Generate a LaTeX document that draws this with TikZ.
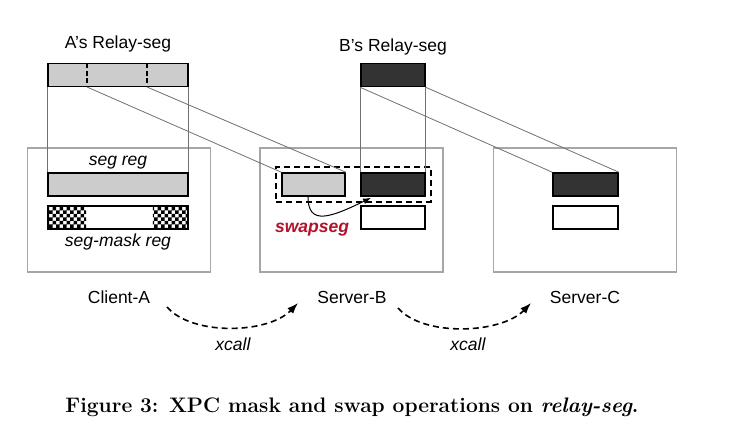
\documentclass[tikz,border=0pt]{standalone}
\usepackage{fontspec}
\setsansfont{Liberation Sans}
\usetikzlibrary{fit,patterns,arrows.meta,backgrounds}
\definecolor{seggray}{HTML}{CCCCCC}
\definecolor{segdark}{HTML}{333333}
\definecolor{framegray}{HTML}{A6A6A6}
\definecolor{linkgray}{HTML}{707070}
\definecolor{swapred}{RGB}{178,18,42}
\pgfdeclarepatternformonly{segchecker}{\pgfqpoint{-.1pt}{-.1pt}}{\pgfqpoint{7.1pt}{7.1pt}}{\pgfqpoint{7pt}{7pt}}{%
  \pgfpathrectangle{\pgfqpoint{0pt}{0pt}}{\pgfqpoint{3.6pt}{3.6pt}}%
  \pgfpathrectangle{\pgfqpoint{3.5pt}{3.5pt}}{\pgfqpoint{3.6pt}{3.6pt}}%
  \pgfusepath{fill}}
\tikzset{
  host/.style={draw=framegray,line width=1.6pt,minimum width=183pt,minimum height=124pt,inner sep=0pt},
  reg/.style={draw,line width=1.6pt,minimum height=23pt,inner sep=0pt},
  lbl/.style={font=\sffamily\fontsize{17.5}{21}\selectfont,inner sep=0pt,anchor=base},
  link/.style={draw=linkgray,line width=0.8pt},
  xcallarrow/.style={->,dash pattern=on 6pt off 4pt,line width=1.6pt}
}
\begin{document}
\begin{tikzpicture}[x=1pt,y=-1pt,>={Latex[length=11pt,width=8pt]}]
\useasboundingbox (0,0) rectangle (732,431);
% hosts
\node[host] (clienta) at (119,210) {};
\node[host] (serverb) at (351.5,210) {};
\node[host] (serverc) at (585,210) {};
% relay segments
\node[reg,fill=seggray,minimum width=140pt] (arelay) at (118,75) {};
\node[reg,fill=segdark,minimum width=64pt] (brelay) at (393,75) {};
\node[lbl] (arelaylbl) at (118,48) {A’s Relay-seg};
\node[lbl] (brelaylbl) at (393,52) {B’s Relay-seg};
\coordinate (adivt1) at (87,63); \coordinate (adivb1) at (87,87);
\coordinate (adivt2) at (147,63); \coordinate (adivb2) at (147,87);
\draw[line width=1.6pt,dash pattern=on 5pt off 2.5pt] (adivt1) -- (adivb1);
\draw[line width=1.6pt,dash pattern=on 5pt off 2.5pt] (adivt2) -- (adivb2);
% registers
\node[reg,fill=seggray,minimum width=140pt] (segreg) at (118,184.5) {};
\node[reg,minimum width=140pt] (maskreg) at (118,217.5) {};
\begin{scope}[on background layer]
  \fill[pattern=segchecker] (maskreg.north west) rectangle ([xshift=39pt]maskreg.south west);
  \fill[pattern=segchecker] (maskreg.north east) rectangle ([xshift=-36pt]maskreg.south east);
\end{scope}
\node[lbl,font=\sffamily\itshape\fontsize{17.5}{21}\selectfont] (segreglbl) at (118,165) {seg reg};
\node[lbl,font=\sffamily\itshape\fontsize{17.5}{21}\selectfont] (masklbl) at (118,246) {seg-mask reg};
\node[reg,fill=seggray,minimum width=63pt] (bgray) at (313.5,184.5) {};
\node[reg,fill=segdark,minimum width=64pt] (bdark) at (393,184.5) {};
\node[reg,minimum width=64pt] (bwhite) at (393,217.5) {};
\node[reg,fill=segdark,minimum width=65pt] (cdark) at (585.5,184.5) {};
\node[reg,minimum width=65pt] (cwhite) at (585.5,217.5) {};
\node[draw,line width=1.6pt,dash pattern=on 6pt off 4pt,inner sep=5pt,fit=(bgray)(bdark)] (swapbox) {};
% links
\draw[link] (arelay.south west) -- (segreg.north west);
\draw[link] (arelay.south east) -- (segreg.north east);
\draw[link] (adivb1) -- (bgray.north west);
\draw[link] (adivb2) -- (bgray.north east);
\draw[link] (brelay.south west) -- (bdark.north west);
\draw[link] (brelay.south east) -- (bdark.north east);
\draw[link] (brelay.south west) -- (cdark.north west);
\draw[link] (brelay.south east) -- (cdark.north east);
% swap
\draw[->,line width=1pt,>={Latex[length=8pt,width=6pt]}] ([xshift=-5.5pt]bgray.south)
  .. controls +(0,29) and +(-41,20) .. ([xshift=-22pt,yshift=-1pt]bdark.south);
\node[lbl,font=\sffamily\bfseries\itshape\fontsize{17.5}{21}\selectfont,text=swapred] (swaplbl) at (312,232) {swapseg};
% calls
\node[lbl] (clientalbl) at (119,303) {Client-A};
\node[lbl] (serverblbl) at (352,303) {Server-B};
\node[lbl] (serverclbl) at (585,303) {Server-C};
\coordinate (call1s) at (167,307); \coordinate (call1e) at (298,303);
\coordinate (call2s) at (398,308); \coordinate (call2e) at (531,303);
\draw[xcallarrow] (call1s) .. controls (192,336) and (268,334) .. (call1e);
\draw[xcallarrow] (call2s) .. controls (423,337) and (501,334) .. (call2e);
\node[lbl,font=\sffamily\itshape\fontsize{17.5}{21}\selectfont] (call1lbl) at (233,350) {xcall};
\node[lbl,font=\sffamily\itshape\fontsize{17.5}{21}\selectfont] (call2lbl) at (468,350) {xcall};
\node[anchor=base,inner sep=0pt,font=\bfseries\fontsize{21}{25}\selectfont] (caption) at (352,412)
  {Figure 3: XPC mask and swap operations on \textit{relay-seg}.};
\end{tikzpicture}
\end{document}
